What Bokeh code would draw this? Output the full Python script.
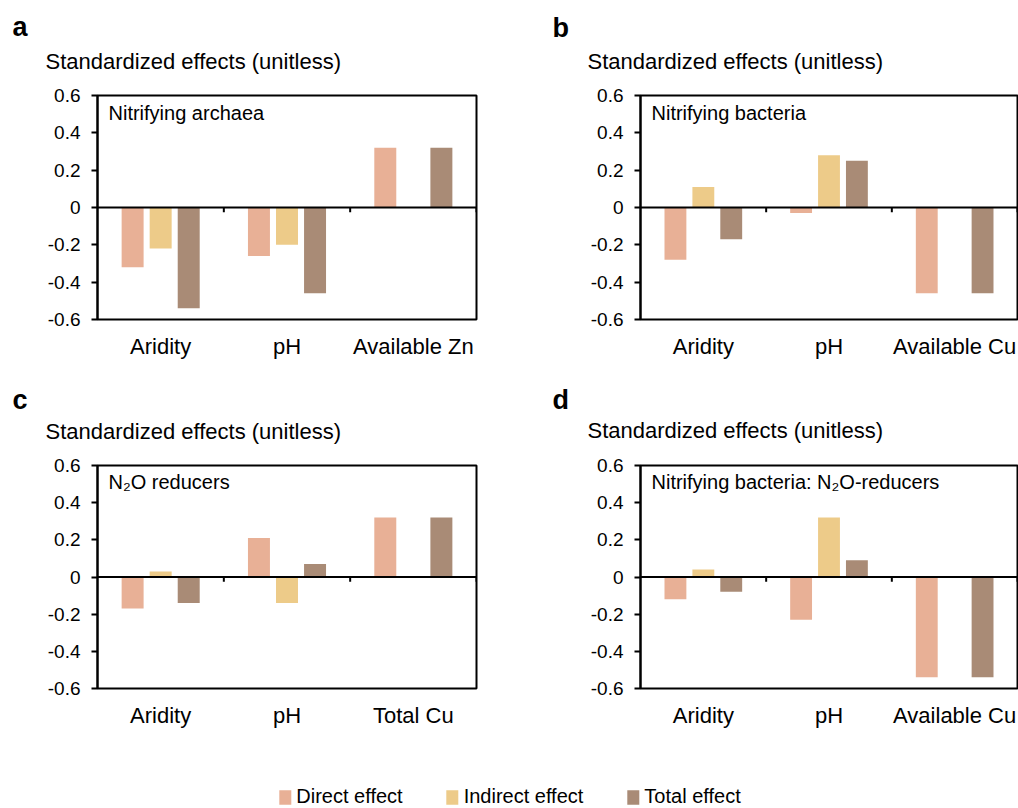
from bokeh.plotting import figure
from bokeh.models import (FactorRange, Range1d, ColumnDataSource, FixedTicker,
                          CustomJSTickFormatter, Span, Label, Legend, LegendItem)
from bokeh.transform import dodge
from bokeh.layouts import column, row
from bokeh.embed import file_html
from bokeh.resources import INLINE

# ---------------- data ----------------
y_title = "Standardized effects (unitless)"
y_ticks = [-0.6, -0.4, -0.2, 0, 0.2, 0.4, 0.6]
series_names = ["Direct effect", "Indirect effect", "Total effect"]

letters = ["a", "b", "c", "d"]
insets = ["Nitrifying archaea", "Nitrifying bacteria", "N\u2082O reducers",
          "Nitrifying bacteria: N\u2082O-reducers"]

categories_a = ["Aridity", "pH", "Available Zn"]
direct_a = [-0.32, -0.26, 0.32]
indirect_a = [-0.22, -0.20, 0.0]
total_a = [-0.54, -0.46, 0.32]

categories_b = ["Aridity", "pH", "Available Cu"]
direct_b = [-0.28, -0.03, -0.46]
indirect_b = [0.11, 0.28, 0.0]
total_b = [-0.17, 0.25, -0.46]

categories_c = ["Aridity", "pH", "Total Cu"]
direct_c = [-0.17, 0.21, 0.32]
indirect_c = [0.03, -0.14, 0.0]
total_c = [-0.14, 0.07, 0.32]

categories_d = ["Aridity", "pH", "Available Cu"]
direct_d = [-0.12, -0.23, -0.54]
indirect_d = [0.04, 0.32, 0.0]
total_d = [-0.08, 0.09, -0.54]

# ---------------- style ----------------
FONT = "Liberation Sans"
COLORS = ["#E8B096", "#EDCB89", "#A98B76"]
FIG_W = 509
FRAME_H = 224
BAR_W = 0.174
OFFS = [-0.222, 0.0, 0.222]


def make_header(letter, height, letter_x, letter_y, title_x, title_y):
    h = figure(width=FIG_W, height=height, x_range=Range1d(0, 1), y_range=Range1d(0, 1),
               output_backend="svg", toolbar_location=None, min_border=0,
               x_axis_location=None, y_axis_location=None, outline_line_color=None)
    h.grid.visible = False
    h.add_layout(Label(x=letter_x, y=letter_y, x_units="screen", y_units="screen",
                       text=letter, text_font=FONT, text_font_size="27px",
                       text_font_style="bold", text_color="black",
                       text_baseline="alphabetic"))
    h.add_layout(Label(x=title_x, y=title_y, x_units="screen", y_units="screen",
                       text=y_title, text_font=FONT, text_font_size="22px",
                       text_color="black", text_baseline="alphabetic"))
    return h


def make_panel(inset, cats, direct, indirect, total,
               border_left, frame_w, border_top, height):
    p = figure(width=FIG_W, height=height,
               x_range=FactorRange(factors=cats), y_range=Range1d(-0.6, 0.6),
               output_backend="svg", toolbar_location=None,
               min_border_left=border_left,
               min_border_right=FIG_W - border_left - frame_w,
               min_border_top=border_top,
               min_border_bottom=height - border_top - FRAME_H)
    src = ColumnDataSource(dict(cat=cats, direct=direct, indirect=indirect, total=total))
    for col, off, colr in zip(["direct", "indirect", "total"], OFFS, COLORS):
        p.vbar(x=dodge("cat", off, range=p.x_range), top=col, bottom=0,
               width=BAR_W, source=src, fill_color=colr, line_color=None)
    # small category-boundary ticks hanging from the zero line
    p.segment(x0=dodge("cat", 0.5, range=p.x_range), y0=0,
              x1=dodge("cat", 0.5, range=p.x_range), y1=-0.025,
              source=src, line_color="black", line_width=2)
    p.add_layout(Span(location=0, dimension="width", line_color="black", line_width=2))

    p.grid.visible = False
    p.outline_line_color = "black"
    p.outline_line_width = 2
    p.background_fill_color = "white"
    p.border_fill_color = "white"

    xa = p.xaxis[0]
    xa.axis_line_color = None
    xa.major_tick_line_color = None
    xa.minor_tick_line_color = None
    xa.major_label_text_font = FONT
    xa.major_label_text_font_size = "22px"
    xa.major_label_text_color = "black"
    xa.major_label_standoff = 8

    ya = p.yaxis[0]
    ya.ticker = FixedTicker(ticks=y_ticks)
    ya.formatter = CustomJSTickFormatter(code="return Math.abs(tick) < 1e-9 ? '0' : tick.toFixed(1);")
    ya.axis_line_color = "black"
    ya.axis_line_width = 2
    ya.major_tick_line_color = "black"
    ya.major_tick_line_width = 2
    ya.major_tick_out = 6
    ya.major_tick_in = 0
    ya.minor_tick_line_color = None
    ya.major_label_text_font = FONT
    ya.major_label_text_font_size = "19px"
    ya.major_label_text_color = "black"
    ya.major_label_standoff = 11

    p.add_layout(Label(x=11, y=FRAME_H - 17, x_units="screen", y_units="screen",
                       text=inset, text_font=FONT, text_font_size="20px",
                       text_color="black", text_baseline="alphabetic"))
    return p


ha = make_header(letters[0], 78, 12, 52, 45, 17)
hb = make_header(letters[1], 78, 43, 51, 78, 17)
hc = make_header(letters[2], 80, 12, 56, 45, 24)
hd = make_header(letters[3], 80, 43, 56, 78, 25)

pa = make_panel(insets[0], categories_a, direct_a, indirect_a, total_a, 97, 379, 17, 297)
pb = make_panel(insets[1], categories_b, direct_b, indirect_b, total_b, 131, 377, 17, 297)
pc = make_panel(insets[2], categories_c, direct_c, indirect_c, total_c, 97, 379, 10, 295)
pd = make_panel(insets[3], categories_d, direct_d, indirect_d, total_d, 131, 377, 9, 295)

# ---------------- legend ----------------
leg = figure(width=2 * FIG_W, height=58, x_range=Range1d(0, 1), y_range=Range1d(0, 1),
             output_backend="svg", toolbar_location=None, min_border=0,
             x_axis_location=None, y_axis_location=None, outline_line_color=None)
leg.grid.visible = False
empty = ColumnDataSource(dict(x=[float("nan")], top=[float("nan")]))
rends = [leg.vbar(x="x", top="top", width=0.1, source=empty, fill_color=c, line_color=None)
         for c in COLORS]
legend = Legend(items=[LegendItem(label=n, renderers=[r]) for n, r in zip(series_names, rends)],
                orientation="horizontal", location="bottom_center",
                glyph_width=15, glyph_height=18, label_standoff=4, spacing=42,
                padding=0, margin=0, border_line_color=None, background_fill_alpha=0,
                label_text_font=FONT, label_text_font_size="20px", label_text_color="black")
leg.add_layout(legend, "center")

layout = column(row(ha, hb), row(pa, pb), row(hc, hd), row(pc, pd), leg)

open("out.html", "w").write(file_html(layout, INLINE))
